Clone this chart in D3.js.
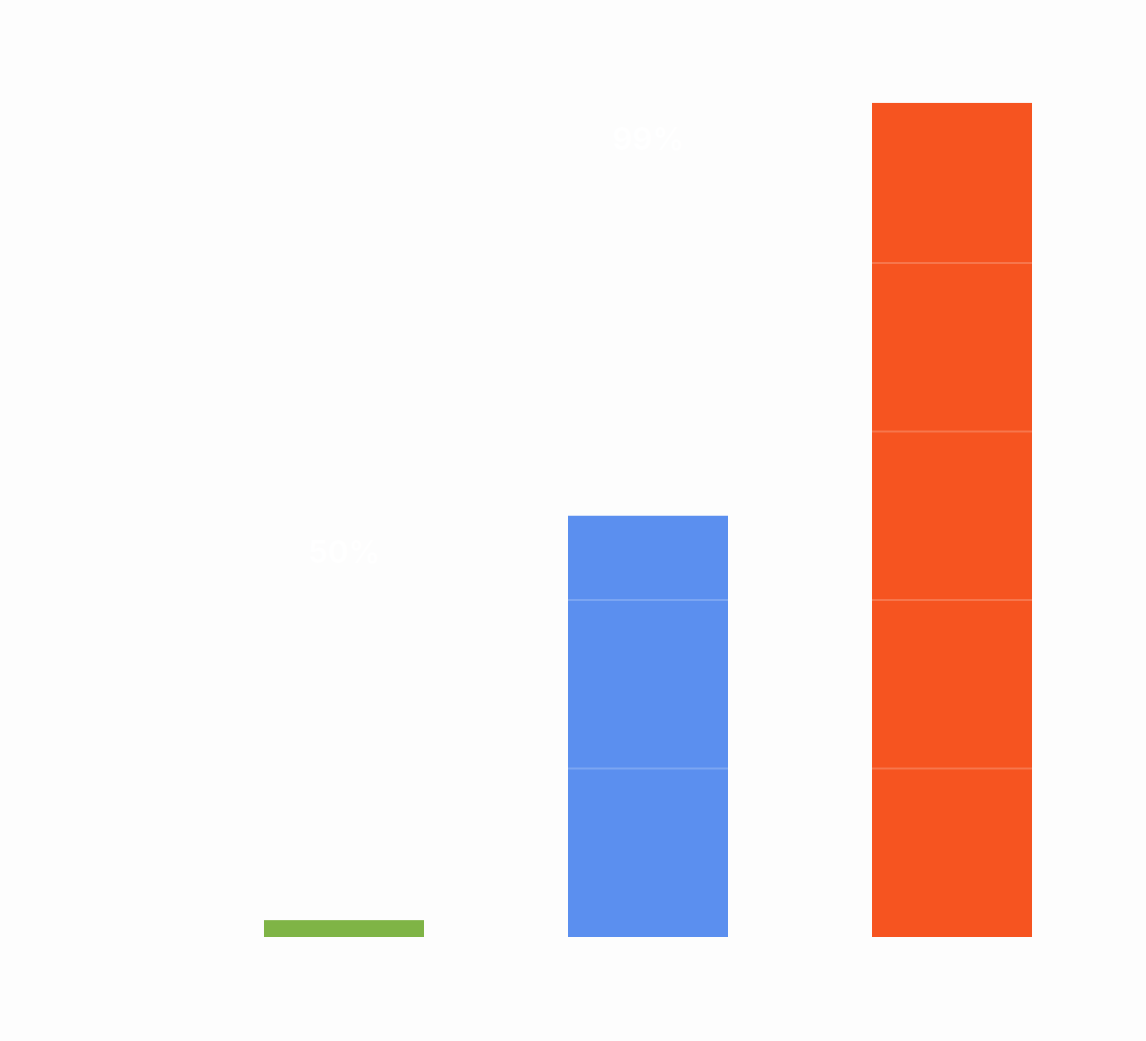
<!DOCTYPE html>
<html><head><meta charset="utf-8">
<script src="https://cdn.jsdelivr.net/npm/d3@7"></script>
<style>body{margin:0;background:#fdfdfd}</style>
</head><body>
<svg id="chart" width="1146" height="1041"></svg>
<script>
const categories = ["A", "B", "C"];
const values = [2, 50, 99];
const colors = ["#7fb446", "#5b8fef", "#f65420"];
const showLabel = [false, true, true];
const gridTicks = [20, 40, 60, 80];

const svg = d3.select("#chart");
const x = d3.scaleBand().domain(categories).range([192, 1104])
  .paddingInner(0.4737).paddingOuter(0.2368);
const y = d3.scaleLinear().domain([0, 100]).range([937, 94.5]);

svg.append("rect").attr("width", 1146).attr("height", 1041).attr("fill", "#fdfdfd");

svg.selectAll("rect.bar").data(values).join("rect")
  .attr("class", "bar")
  .attr("x", (d, i) => x(categories[i]))
  .attr("width", x.bandwidth())
  .attr("y", d => y(d))
  .attr("height", d => y(0) - y(d))
  .attr("fill", (d, i) => colors[i]);

// faint grid lines, only visible over the bars
svg.selectAll("line.grid").data(gridTicks).join("line")
  .attr("x1", 0).attr("x2", 1146)
  .attr("y1", d => y(d)).attr("y2", d => y(d))
  .attr("stroke", "#ffffff").attr("stroke-opacity", 0.2).attr("stroke-width", 2);

svg.selectAll("text.lbl").data(values).join("text")
  .filter((d, i) => showLabel[i])
  .attr("x", (d, i) => x(categories[i]) + x.bandwidth() / 2)
  .attr("y", d => y(d) + 47)
  .attr("text-anchor", "middle")
  .attr("fill", "#ffffff")
  .attr("font-family", "Inter, sans-serif")
  .attr("font-weight", 700)
  .attr("font-size", 31)
  .text(d => d + "%");
</script>
</body></html>
